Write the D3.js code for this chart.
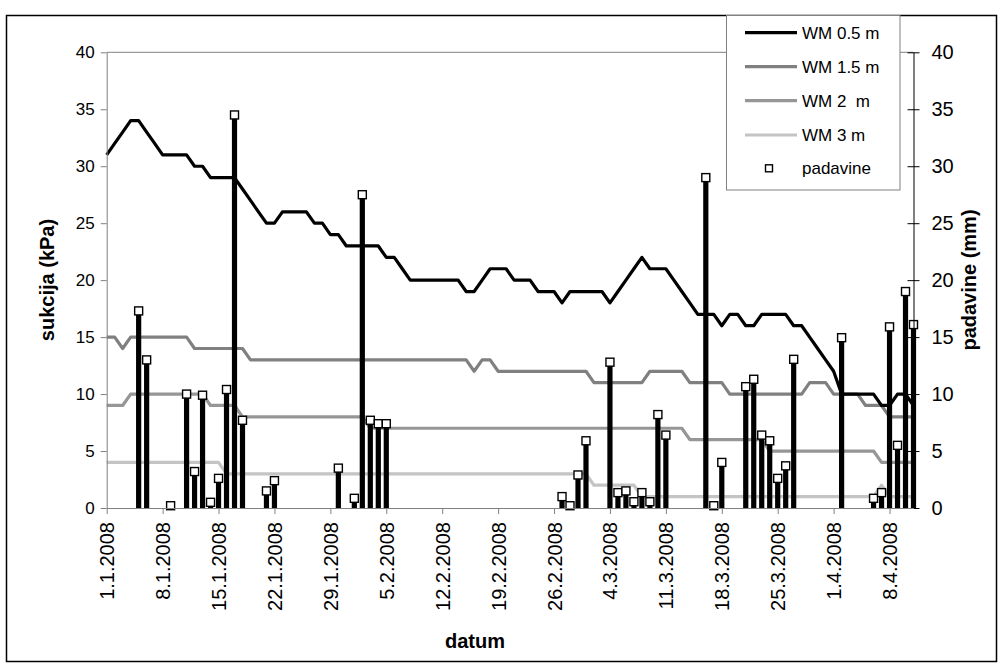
<!DOCTYPE html>
<html>
<head>
<meta charset="utf-8">
<script src="https://cdn.jsdelivr.net/npm/d3@7"></script>
<style>
  html, body { margin: 0; padding: 0; background: #fff; }
  text { font-family: Arial, "Liberation Sans", sans-serif; }
</style>
</head>
<body>
<svg id="chart" width="1004" height="671"></svg>
<script>
// ---- data ----
const startDate = "1.1.2008";
const endDate = "11.4.2008";
const tickLabels = ["1.1.2008","8.1.2008","15.1.2008","22.1.2008","29.1.2008","5.2.2008","12.2.2008","19.2.2008","26.2.2008","4.3.2008","11.3.2008","18.3.2008","25.3.2008","1.4.2008","8.4.2008"];
const yTicks = [0,5,10,15,20,25,30,35,40];

const wm05 = [31,32,33,34,34,33,32,31,31,31,31,30,30,29,29,29,29,28,27,26,25,25,26,26,26,26,25,25,24,24,
  23,23,23,23,23,22,22,21,20,20,20,20,20,20,20,19,19,20,21,21,21,20,20,20,19,19,19,18,19,19,
  19,19,19,18,19,20,21,22,21,21,21,20,19,18,17,17,17,16,17,17,16,16,17,17,17,17,16,16,15,14,
  13,12,10,10,10,10,10,9,9,10,10,9];
const wm15 = [15,15,14,15,15,15,15,15,15,15,15,14,14,14,14,14,14,14,13,13,13,13,13,13,13,13,13,13,13,13,
  13,13,13,13,13,13,13,13,13,13,13,13,13,13,13,13,12,13,13,12,12,12,12,12,12,12,12,12,12,12,
  12,11,11,11,11,11,11,11,12,12,12,12,12,11,11,11,11,11,10,10,10,10,10,10,10,10,10,10,11,11,
  11,10,10,10,10,9,9,9,8,8,8,8];
const wm2 = [9,9,9,10,10,10,10,10,10,10,10,10,10,9,9,9,9,8,8,8,8,8,8,8,8,8,8,8,8,8,
  8,8,8,7,7,7,7,7,7,7,7,7,7,7,7,7,7,7,7,7,7,7,7,7,7,7,7,7,7,7,
  7,7,7,7,7,7,7,7,7,7,7,7,7,6,6,6,6,6,6,6,6,6,6,5,5,5,5,5,5,5,
  5,5,5,5,5,5,5,4,4,4,4,4];
const wm3 = [4,4,4,4,4,4,4,4,4,4,4,4,4,4,4,3,3,3,3,3,3,3,3,3,3,3,3,3,3,3,
  3,3,3,3,3,3,3,3,3,3,3,3,3,3,3,3,3,3,3,3,3,3,3,3,3,3,3,3,3,3,
  3,2,2,2,2,2,2,1,1,1,1,1,1,1,1,1,1,1,1,1,1,1,1,1,1,1,1,1,1,1,
  1,1,1,1,1,1,1,2,1,1,1,1];

const rainDates = ["5.1.2008","6.1.2008","9.1.2008","11.1.2008","12.1.2008","13.1.2008","14.1.2008","15.1.2008","16.1.2008","17.1.2008",
  "18.1.2008","21.1.2008","22.1.2008","30.1.2008","1.2.2008","2.2.2008","3.2.2008","4.2.2008","5.2.2008",
  "27.2.2008","28.2.2008","29.2.2008","1.3.2008","4.3.2008","5.3.2008","6.3.2008","7.3.2008","8.3.2008","9.3.2008","10.3.2008","11.3.2008",
  "16.3.2008","17.3.2008","18.3.2008","21.3.2008","22.3.2008","23.3.2008","24.3.2008","25.3.2008","26.3.2008","27.3.2008",
  "2.4.2008","6.4.2008","7.4.2008","8.4.2008","9.4.2008","10.4.2008","11.4.2008"];
const rainValues = [17.3,13.0,0.2,10.0,3.2,9.9,0.5,2.6,10.4,34.5,
  7.7,1.5,2.4,3.5,0.85,27.5,7.7,7.4,7.4,
  1.0,0.2,2.9,5.9,12.8,1.35,1.5,0.55,1.35,0.55,8.2,6.4,
  29.0,0.2,4.0,10.65,11.3,6.4,5.9,2.6,3.7,13.05,
  14.95,0.85,1.35,15.9,5.5,19.0,16.1];

const seriesNames = ["WM 0.5 m","WM 1.5 m","WM 2  m","WM 3 m"];
const seriesColors = ["#000000","#808080","#969696","#c4c4c4"];
const rainName = "padavine";

// ---- setup ----
const parse = d3.timeParse("%d.%m.%Y");
const dates = d3.timeDay.range(parse(startDate), d3.timeDay.offset(parse(endDate), 1));
const svg = d3.select("#chart");

const pL = 106.7, pR = 913.5, pT = 52.3, pB = 508;
const x = d3.scaleTime().domain([parse(startDate), parse(endDate)]).range([pL, pR]);
const y = d3.scaleLinear().domain([0, 40]).range([pB, pT]);
const y2 = d3.scaleLinear().domain([0, 40]).range([pB, pT]);

// outer border
svg.append("rect").attr("x", 6.5).attr("y", 15.5).attr("width", 990).attr("height", 646)
  .attr("fill", "#fff").attr("stroke", "#000").attr("stroke-width", 1.5);

// plot top border
svg.append("line").attr("x1", pL).attr("x2", pR).attr("y1", pT).attr("y2", pT)
  .attr("stroke", "#808080").attr("stroke-width", 1);

// lines
const series = [wm05, wm15, wm2, wm3];
const lineGen = d3.line().x((d, i) => x(dates[i])).y(d => y(d));
for (let s = series.length - 1; s >= 0; s--) {
  svg.append("path").datum(series[s]).attr("d", lineGen)
    .attr("fill", "none").attr("stroke", seriesColors[s]).attr("stroke-width", 3.2)
    .attr("stroke-linejoin", "round");
}

// rain bars
const rain = rainDates.map((d, i) => ({ date: parse(d), v: rainValues[i] }));
svg.append("g").selectAll("rect").data(rain).join("rect")
  .attr("x", d => x(d.date) - 2.6).attr("width", 5.2)
  .attr("y", d => y2(d.v)).attr("height", d => pB - y2(d.v))
  .attr("fill", "#000");
svg.append("g").selectAll("rect").data(rain).join("rect")
  .attr("x", d => x(d.date) - 4).attr("y", d => y2(d.v) - 4)
  .attr("width", 8).attr("height", 8)
  .attr("fill", "#fff").attr("stroke", "#000").attr("stroke-width", 1.4);

// left axis
const gL = svg.append("g").attr("transform", `translate(${pL},0)`)
  .call(d3.axisLeft(y).tickValues(yTicks).tickSize(6).tickPadding(6).tickSizeOuter(0));
gL.select(".domain").attr("stroke", "#808080");
gL.selectAll(".tick line").attr("stroke", "#808080");
gL.selectAll("text").attr("font-size", 17).attr("fill", "#000");

// right axis
const gR = svg.append("g").attr("transform", `translate(${pR},0)`)
  .call(d3.axisRight(y2).tickValues(yTicks).tickSize(6).tickPadding(12).tickSizeOuter(0));
gR.select(".domain").attr("stroke", "#000");
gR.selectAll(".tick line").attr("x1", -6).attr("x2", 6).attr("stroke", "#000");
gR.selectAll("text").attr("font-size", 20).attr("fill", "#000");

// bottom axis
const tickDates = tickLabels.map(parse);
const gB = svg.append("g").attr("transform", `translate(0,${pB})`)
  .call(d3.axisBottom(x).tickValues(tickDates).tickSize(6).tickSizeOuter(0).tickFormat(d3.timeFormat("%-d.%-m.%Y")));
gB.select(".domain").attr("stroke", "#808080");
gB.selectAll(".tick line").attr("stroke", "#808080");
gB.selectAll("text")
  .attr("font-size", 20).attr("fill", "#000")
  .attr("text-anchor", "end").attr("y", 0).attr("dy", "0.35em")
  .attr("transform", "translate(0,14) rotate(-90)");

// axis titles
svg.append("text").attr("transform", "translate(54,280) rotate(-90)")
  .attr("text-anchor", "middle").attr("font-size", 20).attr("font-weight", "bold").text("sukcija (kPa)");
svg.append("text").attr("transform", "translate(976,280) rotate(-90)")
  .attr("text-anchor", "middle").attr("font-size", 20).attr("font-weight", "bold").text("padavine (mm)");
svg.append("text").attr("x", 475).attr("y", 648)
  .attr("text-anchor", "middle").attr("font-size", 20).attr("font-weight", "bold").text("datum");

// legend
const lg = svg.append("g");
lg.append("rect").attr("x", 726.5).attr("y", 15.5).attr("width", 173.5).attr("height", 174.5)
  .attr("fill", "#fff").attr("stroke", "#808080").attr("stroke-width", 1);
const rowsY = [32.7, 66.7, 100.7, 135, 168.3];
seriesNames.forEach((n, i) => {
  lg.append("line").attr("x1", 745).attr("x2", 797).attr("y1", rowsY[i]).attr("y2", rowsY[i])
    .attr("stroke", seriesColors[i]).attr("stroke-width", 3.2);
  lg.append("text").attr("x", 802).attr("y", rowsY[i]).attr("dy", "0.35em")
    .attr("font-size", 17).style("white-space", "pre").text(n);
});
lg.append("rect").attr("x", 765.5).attr("y", rowsY[4] - 3.5).attr("width", 7).attr("height", 7)
  .attr("fill", "#fff").attr("stroke", "#000").attr("stroke-width", 1.4);
lg.append("text").attr("x", 802).attr("y", rowsY[4]).attr("dy", "0.35em")
  .attr("font-size", 17).text(rainName);
</script>
</body>
</html>
